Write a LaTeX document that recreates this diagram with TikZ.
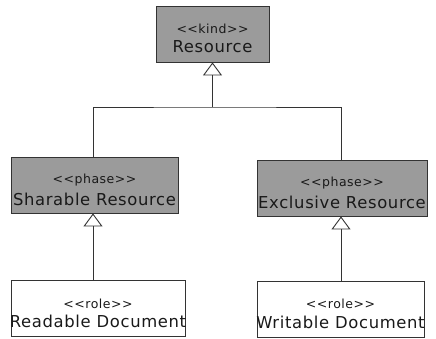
\documentclass[tikz,border=0pt]{standalone}
\usepackage{fontspec}
\newfontfamily\umlfont[LetterSpace=4]{DejaVu Sans}
\usetikzlibrary{arrows.meta,positioning}
\definecolor{boxgray}{HTML}{9B9B9B}
\definecolor{edgegray}{HTML}{333333}
\newcommand{\umllabel}[2]{%
  \rule{0pt}{19pt}\makebox[0pt]{\fontsize{12.5}{14}\selectfont <<#1>>}\\[6pt]
  \makebox[0pt]{\fontsize{16.4}{18}\selectfont #2}}

\begin{document}
\begin{tikzpicture}[x=1pt, y=1pt,
    umlclass/.style={draw=edgegray, line width=0.9pt, minimum height=56pt,
      align=center, inner sep=0pt, font=\umlfont, text=black!90},
    kindclass/.style={umlclass, fill=boxgray},
    gen/.style={draw=edgegray, line width=0.9pt,
      -{Triangle[open, width=19pt, length=13pt, line width=0.9pt]}}]
  \useasboundingbox (0,0) rectangle (436,338);

  \node[kindclass, minimum width=113pt] (resource)  at (212.5,304) {\umllabel{kind}{Resource}};
  \node[kindclass, minimum width=167pt] (sharable)  at (94.5,153)  {\umllabel{phase}{Sharable Resource}};
  \node[kindclass, minimum width=170pt] (exclusive) at (342,150)   {\umllabel{phase}{Exclusive Resource}};
  \node[umlclass, minimum width=174pt]  (readable)  at (98,29.5)   {\umllabel{role}{Readable Document}};
  \node[umlclass, minimum width=167pt]  (writable)  at (340.5,29)  {\umllabel{role}{Writable Document}};

  % generalisation lines
  \coordinate (bus) at (resource.south |- 0,231);
  \coordinate (sharetop) at (93,0 |- sharable.north);
  \coordinate (excltop) at (341,0 |- exclusive.north);
  \draw[draw=edgegray, line width=0.9pt] (sharetop) |- (bus) -| (excltop);
  \path[gen] (bus) -- (resource.south);
  \path[gen] (readable.north -| sharetop) -- (sharetop |- sharable.south);
  \path[gen] (writable.north -| excltop) -- (excltop |- exclusive.south);
\end{tikzpicture}
\end{document}
